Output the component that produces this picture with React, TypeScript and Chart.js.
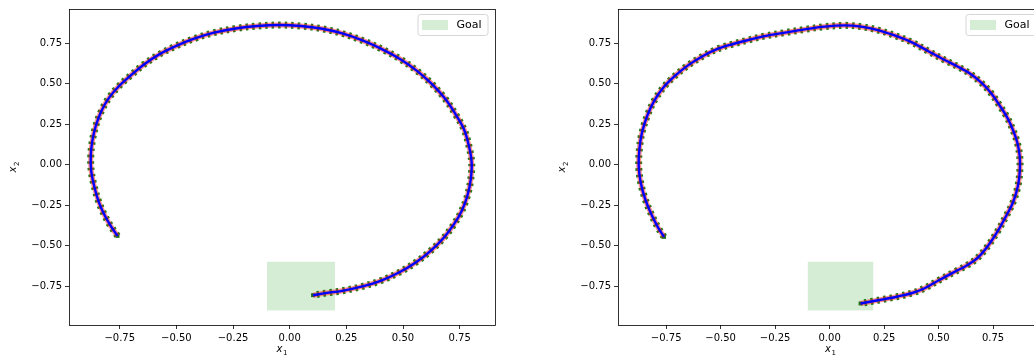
import React, { useEffect, useRef } from "react";
import { Chart, registerables } from "chart.js";

Chart.register(...registerables);

// ---------- data ----------
const TICKS = [-0.75, -0.5, -0.25, 0, 0.25, 0.5, 0.75];
const GOAL_X = [-0.1, 0.2];
const GOAL_Y = [-0.9, -0.6];
const LEGEND_LABEL = "Goal";
const X_TITLE = ["x", "1"];
const Y_TITLE = ["x", "2"];

const LEFT_X = [
  -0.76, -0.79, -0.819, -0.844, -0.863, -0.876, -0.878, -0.871, -0.856, -0.831, -0.797, -0.753,
  -0.701, -0.643, -0.576, -0.503, -0.422, -0.334, -0.238, -0.143, -0.047, 0.049, 0.144, 0.232,
  0.321, 0.409, 0.49, 0.563, 0.629, 0.688, 0.732, 0.769, 0.791, 0.803, 0.799, 0.784, 0.759,
  0.725, 0.681, 0.622, 0.556, 0.482, 0.401, 0.321, 0.232, 0.159, 0.103,
];
const LEFT_Y = [
  -0.44, -0.379, -0.307, -0.225, -0.132, -0.039, 0.053, 0.146, 0.238, 0.331, 0.413, 0.485,
  0.551, 0.618, 0.68, 0.731, 0.777, 0.814, 0.84, 0.855, 0.861, 0.855, 0.838, 0.809,
  0.766, 0.711, 0.649, 0.577, 0.495, 0.403, 0.31, 0.218, 0.115, 0.012, -0.091, -0.193, -0.286,
  -0.368, -0.45, -0.532, -0.604, -0.666, -0.717, -0.752, -0.779, -0.793, -0.806,
];

const RIGHT_X = [
  -0.76, -0.787, -0.818, -0.846, -0.867, -0.876, -0.873, -0.861, -0.836, -0.803, -0.76, -0.711,
  -0.65, -0.581, -0.512, -0.443, -0.375, -0.298, -0.206, -0.115, -0.023, 0.069, 0.145, 0.222,
  0.298, 0.375, 0.451, 0.528, 0.589, 0.642, 0.696, 0.742, 0.78, 0.815, 0.841, 0.861, 0.872,
  0.873, 0.864, 0.841, 0.81, 0.772, 0.726, 0.68, 0.631, 0.573, 0.505, 0.436, 0.375, 0.313,
  0.252, 0.191, 0.142,
];
const RIGHT_Y = [
  -0.446, -0.389, -0.307, -0.214, -0.111, -0.008, 0.094, 0.197, 0.304, 0.398, 0.48, 0.546,
  0.612, 0.67, 0.715, 0.744, 0.768, 0.793, 0.814, 0.834, 0.851, 0.859, 0.851, 0.83,
  0.797, 0.756, 0.701, 0.645, 0.604, 0.563, 0.505, 0.439, 0.365, 0.29, 0.214, 0.136, 0.053,
  -0.029, -0.132, -0.234, -0.317, -0.409, -0.502, -0.574, -0.621, -0.662, -0.711, -0.763, -0.794, -0.814,
  -0.83, -0.845, -0.857,
];

const LEFT_RANGE = { xmin: -0.974, xmax: 0.906, ymin: -0.99, ymax: 0.96 };
const RIGHT_RANGE = { xmin: -0.971, xmax: 0.979, ymin: -0.99, ymax: 0.96 };

// ---------- helpers ----------
const FONT = '"DejaVu Sans", "Liberation Sans", sans-serif';
const fmt = (v: number) => {
  const s = Math.abs(v) < 1e-9 ? "0.00" : v.toFixed(2);
  return s.replace("-", "\u2212");
};

function drawMath(ctx: CanvasRenderingContext2D, base: string, sub: string, cx: number, cy: number) {
  ctx.font = `italic 10px ${FONT}`;
  const wb = ctx.measureText(base).width;
  ctx.font = `7px ${FONT}`;
  const ws = ctx.measureText(sub).width;
  const w = wb + ws + 0.5;
  let x = cx - w / 2;
  ctx.fillStyle = "#000";
  ctx.textBaseline = "alphabetic";
  ctx.textAlign = "left";
  ctx.font = `italic 10px ${FONT}`;
  ctx.fillText(base, x, cy + 2);
  x += wb + 0.5;
  ctx.font = `7px ${FONT}`;
  ctx.fillText(sub, x, cy + 4.5);
}

const panelPlugin = {
  id: "panel",
  beforeDatasetsDraw(chart: any) {
    const { ctx, scales } = chart;
    const x = scales.x;
    const y = scales.y;
    const x0 = x.getPixelForValue(GOAL_X[0]);
    const x1 = x.getPixelForValue(GOAL_X[1]);
    const y0 = y.getPixelForValue(GOAL_Y[1]);
    const y1 = y.getPixelForValue(GOAL_Y[0]);
    ctx.save();
    ctx.fillStyle = "rgba(44,160,44,0.2)";
    ctx.fillRect(x0, y0, x1 - x0, y1 - y0);
    ctx.restore();
  },
  afterDraw(chart: any) {
    const { ctx, chartArea: a } = chart;
    ctx.save();
    // frame
    ctx.strokeStyle = "#000";
    ctx.lineWidth = 0.8;
    ctx.strokeRect(Math.round(a.left) + 0.5, Math.round(a.top) + 0.5, Math.round(a.right - a.left), Math.round(a.bottom - a.top));
    // legend
    const bw = 70, bh = 21;
    const bx = a.right - 7 - bw;
    const by = a.top + 5.5;
    ctx.beginPath();
    const r = 2.5;
    ctx.moveTo(bx + r, by);
    ctx.lineTo(bx + bw - r, by);
    ctx.quadraticCurveTo(bx + bw, by, bx + bw, by + r);
    ctx.lineTo(bx + bw, by + bh - r);
    ctx.quadraticCurveTo(bx + bw, by + bh, bx + bw - r, by + bh);
    ctx.lineTo(bx + r, by + bh);
    ctx.quadraticCurveTo(bx, by + bh, bx, by + bh - r);
    ctx.lineTo(bx, by + r);
    ctx.quadraticCurveTo(bx, by, bx + r, by);
    ctx.closePath();
    ctx.fillStyle = "rgba(255,255,255,0.8)";
    ctx.fill();
    ctx.strokeStyle = "#d6d6d6";
    ctx.lineWidth = 1;
    ctx.stroke();
    ctx.fillStyle = "rgba(44,160,44,0.2)";
    ctx.fillRect(bx + 4, by + 5.5, 26, 10);
    ctx.fillStyle = "#000";
    ctx.font = `11px ${FONT}`;
    ctx.textAlign = "left";
    ctx.textBaseline = "middle";
    ctx.fillText(LEGEND_LABEL, bx + 38.5, by + bh / 2 + 0.5);
    // axis titles
    drawMath(ctx, X_TITLE[0], X_TITLE[1], (a.left + a.right) / 2, 350);
    ctx.save();
    ctx.translate(a.left - 55, (a.top + a.bottom) / 2);
    ctx.rotate(-Math.PI / 2);
    drawMath(ctx, Y_TITLE[0], Y_TITLE[1], 0, 0);
    ctx.restore();
    ctx.restore();
  },
};

function makeDatasets(xs: number[], ys: number[]) {
  const pts = xs.map((x, i) => ({ x, y: ys[i] }));
  const n = pts.length;
  return [
    {
      data: pts, showLine: true, borderColor: "#0000ff", borderWidth: 2.4,
      pointRadius: 0, tension: 0.35, order: 1,
    },
    {
      data: pts, showLine: true, borderColor: "rgba(255,30,30,0.5)", borderWidth: 5,
      pointRadius: 0, tension: 0.35, order: 2,
    },
    {
      data: pts, showLine: true, borderColor: "#16801a", borderWidth: 7, borderDash: [2.5, 4],
      pointRadius: pts.map((_, i) => (i === 0 || i === n - 1 ? 2.8 : 0)),
      pointStyle: "rect",
      pointBackgroundColor: "#1a6b1a", pointBorderWidth: 0, tension: 0.35, order: 3,
    },
  ];
}

function Panel(props: {
  left: number; width: number; yAxisWidth: number; padRight: number;
  xs: number[]; ys: number[]; range: { xmin: number; xmax: number; ymin: number; ymax: number };
}) {
  const ref = useRef<HTMLCanvasElement | null>(null);
  useEffect(() => {
    if (!ref.current) return;
    const { range } = props;
    const tickOpts = {
      color: "#000",
      font: { family: FONT, size: 10 },
      padding: 3,
      callback: (v: any) => fmt(Number(v)),
    };
    const grid = {
      display: true, drawOnChartArea: false, drawTicks: true, tickLength: 4,
      color: "#000", tickColor: "#000", lineWidth: 0.8,
    };
    const chart = new Chart(ref.current, {
      type: "scatter",
      data: { datasets: makeDatasets(props.xs, props.ys) as any },
      options: {
        animation: false,
        responsive: false,
        maintainAspectRatio: false,
        devicePixelRatio: 1,
        events: [],
        layout: { padding: { left: 0, top: 7, right: props.padRight, bottom: 0 } },
        plugins: { legend: { display: false }, tooltip: { enabled: false } },
        scales: {
          x: {
            type: "linear", min: range.xmin, max: range.xmax,
            border: { display: false },
            grid,
            ticks: tickOpts,
            afterBuildTicks: (s: any) => { s.ticks = TICKS.map((v) => ({ value: v })); },
            afterFit: (s: any) => { s.height = 35; },
          },
          y: {
            type: "linear", min: range.ymin, max: range.ymax,
            border: { display: false },
            grid,
            ticks: tickOpts,
            afterBuildTicks: (s: any) => { s.ticks = TICKS.map((v) => ({ value: v })); },
            afterFit: (s: any) => { s.width = props.yAxisWidth; },
          },
        },
      } as any,
      plugins: [panelPlugin],
    });
    return () => chart.destroy();
  }, []);
  return (
    <canvas
      ref={ref}
      width={props.width}
      height={360}
      style={{ position: "absolute", left: props.left, top: 0, width: props.width, height: 360 }}
    />
  );
}

export default function App() {
  return (
    <div
      style={{
        position: "fixed", left: 0, top: 0, width: 1034, height: 360,
        overflow: "hidden", background: "#fff",
      }}
    >
      <Panel left={0} width={520} yAxisWidth={69} padRight={25} xs={LEFT_X} ys={LEFT_Y} range={LEFT_RANGE} />
      <Panel left={540} width={520} yAxisWidth={78} padRight={17} xs={RIGHT_X} ys={RIGHT_Y} range={RIGHT_RANGE} />
    </div>
  );
}
